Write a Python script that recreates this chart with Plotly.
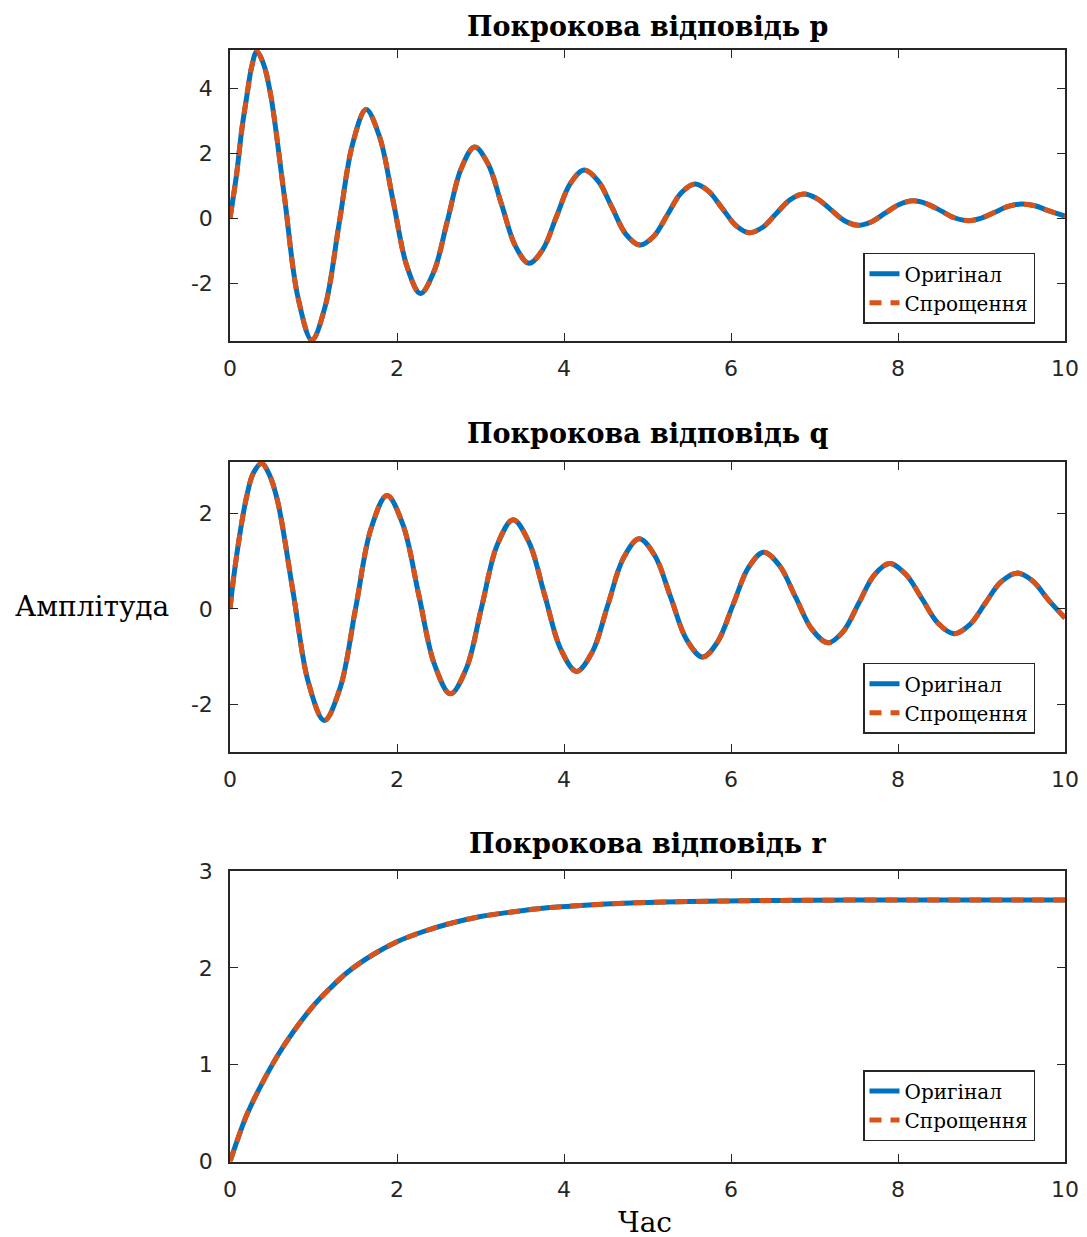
import plotly.graph_objects as go

# ---------------- data ----------------
p_time = [0, 0.08, 0.14, 0.20, 0.26, 0.32, 0.40, 0.485, 0.65, 0.815, 0.98, 1.14, 1.305, 1.47, 1.63,
          1.79, 1.955, 2.12, 2.28, 2.44, 2.605, 2.77, 2.93, 3.09, 3.255, 3.42, 3.58, 3.745,
          3.91, 4.075, 4.24, 4.41, 4.575, 4.74, 4.91, 5.075, 5.24, 5.405, 5.57, 5.73, 5.895,
          6.06, 6.22, 6.38, 6.545, 6.71, 6.87, 7.03, 7.195, 7.36, 7.52, 7.685, 7.85, 8.015,
          8.18, 8.345, 8.51, 8.675, 8.84, 9.0, 9.16, 9.32, 9.48, 9.64, 9.8, 10.0]
p_original = [0, 1.37, 2.7, 3.73, 4.66, 5.12, 4.75, 3.82, 0.69, -2.45, -3.75, -2.71, -0.2, 2.30, 3.34,
              2.51, 0.51, -1.49, -2.32, -1.66, -0.07, 1.53, 2.19, 1.67, 0.40, -0.87, -1.39, -0.97,
              0.05, 1.06, 1.48, 1.14, 0.33, -0.49, -0.83, -0.56, 0.11, 0.78, 1.05, 0.83, 0.30,
              -0.23, -0.45, -0.28, 0.15, 0.57, 0.74, 0.60, 0.26, -0.08, -0.22, -0.11, 0.16, 0.42,
              0.53, 0.44, 0.23, 0.01, -0.08, 0.0, 0.18, 0.36, 0.43, 0.38, 0.23, 0.06]
p_simplified = list(p_original)

q_time = [0, 0.04, 0.12, 0.20, 0.28, 0.38, 0.47, 0.57, 0.755, 0.94, 1.13, 1.32, 1.505, 1.69, 1.88,
          2.07, 2.26, 2.45, 2.64, 2.83, 3.015, 3.20, 3.39, 3.58, 3.77, 3.96, 4.15, 4.34, 4.525,
          4.71, 4.90, 5.09, 5.28, 5.47, 5.66, 5.84, 6.025, 6.21, 6.39, 6.58, 6.775, 6.97, 7.16,
          7.345, 7.53, 7.715, 7.90, 8.09, 8.285, 8.48, 8.67, 8.86, 9.045, 9.23, 9.42, 9.61,
          9.8, 10.0]
q_original = [0, 0.61, 1.59, 2.36, 2.85, 3.05, 2.82, 2.26, 0.36, -1.55, -2.34, -1.65, 0.02, 1.69, 2.38,
              1.77, 0.30, -1.17, -1.78, -1.25, 0.05, 1.34, 1.87, 1.40, 0.28, -0.84, -1.31, -0.90,
              0.08, 1.06, 1.47, 1.11, 0.23, -0.65, -1.01, -0.69, 0.09, 0.87, 1.19, 0.91, 0.24,
              -0.43, -0.71, -0.47, 0.12, 0.71, 0.95, 0.73, 0.22, -0.30, -0.52, -0.33, 0.12, 0.56,
              0.75, 0.59, 0.19, -0.19]
q_simplified = list(q_original)

r_time = [0, 0.1, 0.2, 0.35, 0.56, 0.75, 1.0, 1.2, 1.4, 1.7, 2.0, 2.3, 2.6, 3.0, 3.4, 3.8,
          4.2, 4.8, 5.5, 6.5, 7.5, 8.5, 10.0]
r_original = [0, 0.25, 0.48, 0.75, 1.08, 1.33, 1.61, 1.79, 1.95, 2.13, 2.27, 2.37, 2.45, 2.53,
              2.58, 2.62, 2.645, 2.67, 2.685, 2.695, 2.70, 2.70, 2.70]
r_simplified = list(r_original)

titles = ["Покрокова відповідь p", "Покрокова відповідь q", "Покрокова відповідь r"]
series_names = ["Оригінал", "Спрощення"]
x_ticks = [0, 2, 4, 6, 8, 10]
y_ticks = [[-2, 0, 2, 4], [-2, 0, 2], [0, 1, 2, 3]]
y_ranges = [[-3.78, 5.17], [-3.0, 3.08], [0, 3]]
y_label = "Амплітуда"
x_label = "Час"

# ---------------- styling / layout ----------------
W, H = 1087, 1237
OFF = 8  # page body margin of the viewer
BLUE = "#0072BD"
ORANGE = "#D95319"
AX = "#262626"
SERIF = "DejaVu Serif, Liberation Serif, serif"
SANS = "DejaVu Sans, Liberation Sans, sans-serif"

x0_px, x1_px = 230 - OFF, 1065 - OFF
rows_px = [(50 - OFF, 341 - OFF), (462 - OFF, 752 - OFF), (871 - OFF, 1161.5 - OFF)]
legend_tops_px = [252.7 - OFF, 662.7 - OFF, 1070 - OFF]
title_y_px = [27 - OFF, 433 - OFF, 843 - OFF]


def py(px):
    return 1 - px / H


def tick_text(vals):
    return [str(v) for v in vals]


fig = go.Figure()
data = [(p_time, p_original, p_simplified),
        (q_time, q_original, q_simplified),
        (r_time, r_original, r_simplified)]

for i, (t, orig, simp) in enumerate(data):
    sfx = "" if i == 0 else str(i + 1)
    leg = "legend" + sfx
    fig.add_trace(go.Scatter(x=t, y=orig, mode="lines", name=series_names[0],
                             line=dict(color=BLUE, width=5, shape="spline", smoothing=1.0),
                             xaxis="x" + sfx, yaxis="y" + sfx, legend=leg))
    fig.add_trace(go.Scatter(x=t, y=simp, mode="lines", name=series_names[1],
                             line=dict(color=ORANGE, width=5, dash="12px,9px",
                                       shape="spline", smoothing=1.0),
                             xaxis="x" + sfx, yaxis="y" + sfx, legend=leg))

layout = dict(width=W, height=H,
              margin=dict(l=0, r=0, t=0, b=0, autoexpand=False),
              paper_bgcolor="white", plot_bgcolor="white", showlegend=True)

annotations = []
for i in range(3):
    sfx = "" if i == 0 else str(i + 1)
    top, bot = rows_px[i]
    axis_common = dict(showline=True, linecolor=AX, linewidth=1.5, mirror="ticks",
                       ticks="inside", ticklen=8, tickwidth=1.2, tickcolor=AX,
                       showgrid=False, zeroline=False, automargin=False,
                       tickfont=dict(family=SANS, size=22, color=AX))
    layout["xaxis" + sfx] = dict(domain=[x0_px / W, x1_px / W], range=[0, 10],
                                 tickvals=x_ticks, ticktext=tick_text(x_ticks),
                                 ticklabelstandoff=7, anchor="y" + sfx, **axis_common)
    layout["yaxis" + sfx] = dict(domain=[py(bot), py(top)], range=y_ranges[i],
                                 tickvals=y_ticks[i], ticktext=tick_text(y_ticks[i]),
                                 ticklabelstandoff=11, anchor="x" + sfx, **axis_common)
    layout["legend" + sfx] = dict(x=(1035 - OFF) / W, xanchor="right", y=py(legend_tops_px[i]),
                                  yanchor="top", bgcolor="white", bordercolor=AX,
                                  borderwidth=1.5,
                                  font=dict(family=SERIF, size=20, color="black"))
    annotations.append(dict(text="<b>" + titles[i] + "</b>", xref="paper", yref="paper",
                            x=(x0_px + x1_px) / 2 / W, y=py(title_y_px[i]), xanchor="center",
                            yanchor="middle", showarrow=False,
                            font=dict(family=SERIF, size=27, color="black")))

annotations.append(dict(text=y_label, xref="paper", yref="paper", x=(92 - OFF) / W,
                        y=py(606 - OFF), xanchor="center", yanchor="middle", showarrow=False,
                        font=dict(family=SERIF, size=28, color="black")))
annotations.append(dict(text=x_label, xref="paper", yref="paper", x=(645 - OFF) / W,
                        y=py(1222 - OFF), xanchor="center", yanchor="middle", showarrow=False,
                        font=dict(family=SERIF, size=28, color="black")))
layout["annotations"] = annotations

fig.update_layout(**layout)
fig.write_html("out.html")
